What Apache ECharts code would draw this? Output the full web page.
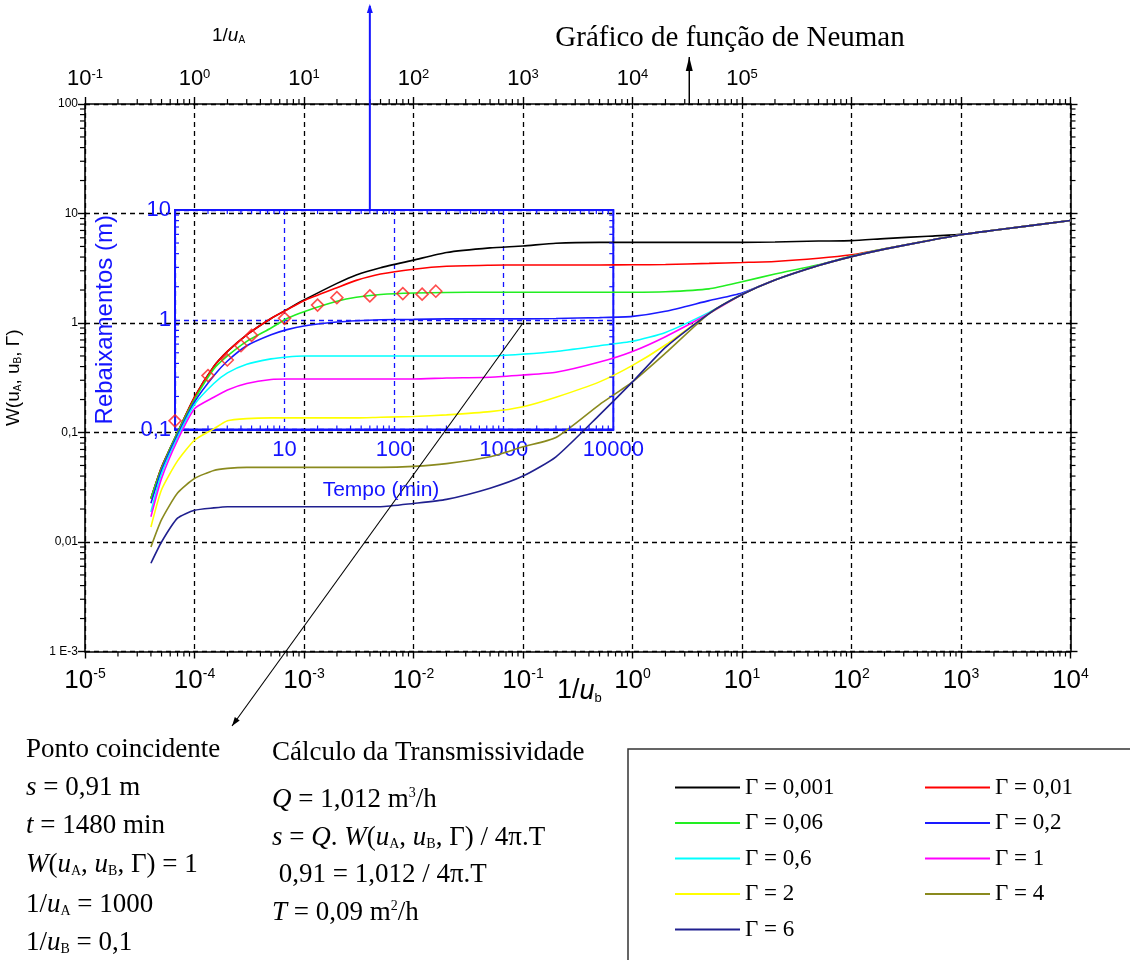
<!DOCTYPE html>
<html><head><meta charset="utf-8">
<script src="https://cdn.jsdelivr.net/npm/echarts@6/dist/echarts.min.js"></script>
<style>html,body{margin:0;padding:0;background:#fff}#c{width:1130px;height:960px}</style>
</head><body><div id="c"></div>
<script>
// ================= DATA =================
// x values : 1/uB (bottom axis); 1/uA = 1/uB * 1e4 (top axis)
const invUB = [4e-5, 5e-5, 7e-5, 1e-4, 1.5e-4, 2e-4, 3e-4, 5e-4, 7e-4, 1e-3, 2e-3, 3e-3, 5e-3, 1e-2, 2e-2, 5e-2, 0.1, 0.2, 0.5, 1, 2, 5, 10, 20, 50, 100, 200, 500, 1000, 2000, 1e4];
// W(uA, uB, Γ)
const W_g0001 = [0.025, 0.048, 0.10, 0.21, 0.40, 0.55, 0.78, 1.1, 1.33, 1.62, 2.3, 2.75, 3.2, 3.75, 4.4, 4.85, 5.05, 5.35, 5.45, 5.45, 5.45, 5.45, 5.45, 5.5, 5.6, 5.65, 5.9, 6.2, 6.45, 7.02, 8.63];
const W_g001  = [0.025, 0.048, 0.10, 0.21, 0.40, 0.55, 0.78, 1.1, 1.32, 1.6, 2.1, 2.45, 2.8, 3.1, 3.3, 3.37, 3.39, 3.39, 3.39, 3.4, 3.42, 3.5, 3.57, 3.65, 3.9, 4.2, 4.75, 5.65, 6.4, 7.02, 8.63];
const W_g006  = [0.025, 0.047, 0.10, 0.20, 0.38, 0.5, 0.68, 0.9, 1.1, 1.27, 1.58, 1.72, 1.82, 1.88, 1.9, 1.91, 1.91, 1.91, 1.91, 1.91, 1.93, 2.05, 2.38, 2.8, 3.4, 4.08, 4.75, 5.65, 6.4, 7.02, 8.63];
const W_g02   = [0.0226, 0.045, 0.095, 0.19, 0.33, 0.45, 0.62, 0.78, 0.87, 0.94, 1.02, 1.05, 1.07, 1.08, 1.09, 1.09, 1.09, 1.1, 1.12, 1.15, 1.28, 1.6, 1.88, 2.47, 3.36, 4.05, 4.73, 5.64, 6.4, 7.02, 8.63];
const W_g06   = [0.0188, 0.042, 0.09, 0.18, 0.28, 0.35, 0.42, 0.47, 0.49, 0.5, 0.5, 0.5, 0.5, 0.5, 0.5, 0.5, 0.52, 0.55, 0.62, 0.68, 0.82, 1.25, 1.83, 2.47, 3.35, 4.04, 4.73, 5.64, 6.4, 7.02, 8.63];
const W_g1    = [0.017, 0.038, 0.085, 0.165, 0.21, 0.245, 0.28, 0.305, 0.308, 0.308, 0.308, 0.308, 0.308, 0.308, 0.315, 0.32, 0.335, 0.355, 0.44, 0.55, 0.75, 1.22, 1.82, 2.47, 3.35, 4.04, 4.73, 5.64, 6.4, 7.02, 8.63];
const W_g2    = [0.0137, 0.03, 0.055, 0.085, 0.108, 0.128, 0.134, 0.136, 0.136, 0.136, 0.136, 0.136, 0.138, 0.14, 0.145, 0.155, 0.172, 0.21, 0.29, 0.41, 0.63, 1.22, 1.82, 2.47, 3.35, 4.04, 4.73, 5.64, 6.4, 7.02, 8.63];
const W_g4    = [0.009, 0.016, 0.028, 0.038, 0.045, 0.047, 0.048, 0.048, 0.048, 0.048, 0.048, 0.048, 0.048, 0.049, 0.052, 0.06, 0.074, 0.09, 0.18, 0.29, 0.53, 1.22, 1.82, 2.47, 3.35, 4.04, 4.73, 5.64, 6.4, 7.02, 8.63];
const W_g6    = [0.0064, 0.01, 0.0165, 0.0195, 0.0205, 0.021, 0.021, 0.021, 0.021, 0.021, 0.021, 0.021, 0.021, 0.0225, 0.0245, 0.031, 0.04, 0.06, 0.145, 0.29, 0.6, 1.22, 1.82, 2.47, 3.35, 4.04, 4.73, 5.64, 6.4, 7.02, 8.63];
const gammaNames = ['Γ = 0,001', 'Γ = 0,01', 'Γ = 0,06', 'Γ = 0,2', 'Γ = 0,6', 'Γ = 1', 'Γ = 2', 'Γ = 4', 'Γ = 6'];
const gammaValues = [W_g0001, W_g001, W_g006, W_g02, W_g06, W_g1, W_g2, W_g4, W_g6];
// field data (overlay): time (min) vs drawdown (m)
const tempoMin = [1, 2, 3, 4, 5, 10, 20, 30, 60, 120, 180, 240];
const rebaixM  = [0.12, 0.31, 0.43, 0.58, 0.72, 1.03, 1.36, 1.59, 1.65, 1.73, 1.71, 1.82];
// annotations
const matchPoint = [0.1, 1];      // (1/uB, W)
const arrowTempo = 60;            // min
const arrowTopInvUA = 3.3e4;      // on 1/uA axis
// tick labels
const yTickLabels = {'-3': '1 E-3', '-2': '0,01', '-1': '0,1', '0': '1', '1': '10', '2': '100'};
const innerYTickLabels = {'-1': '0,1', '0': '1', '1': '10'};
const innerXTickLabels = {'0': '', '1': '10', '2': '100', '3': '1000', '4': '10000'};

// ================= STYLE =================
const colors = ['#000000', '#ff0000', '#22ee22', '#1a1aff', '#00ffff', '#ff00ff', '#ffff00', '#8a8a1e', '#20208f'];
const SANS = 'Liberation Sans';
const SERIF = 'Liberation Serif';
const BLUE = '#1414ff';

const chart = echarts.init(document.getElementById('c'), null, {renderer: 'canvas'});
const ex = v => Math.round(Math.log10(v));

function minorVals(d0, d1) {
  const out = [];
  for (let d = d0; d <= d1; d++) for (let m = 2; m <= 9; m++) out.push(m * Math.pow(10, d));
  return out;
}

function tickRenderer(side, len, color, inward) {
  return function (params, api) {
    const cs = params.coordSys;
    const p = api.coord([api.value(0), api.value(1)]);
    const s = {stroke: color, lineWidth: 1.2};
    const ch = [];
    const sg = inward ? -1 : 1;
    if (side === 'x') {
      const yb = cs.y + cs.height, yt = cs.y;
      ch.push({type: 'line', shape: {x1: p[0], y1: yb, x2: p[0], y2: yb + sg * len}, style: s});
      ch.push({type: 'line', shape: {x1: p[0], y1: yt, x2: p[0], y2: yt - sg * len}, style: s});
    } else {
      const xl = cs.x, xr = cs.x + cs.width;
      ch.push({type: 'line', shape: {x1: xl, y1: p[1], x2: xl - sg * len, y2: p[1]}, style: s});
      ch.push({type: 'line', shape: {x1: xr, y1: p[1], x2: xr + sg * len, y2: p[1]}, style: s});
    }
    return {type: 'group', children: ch};
  };
}

const series = gammaNames.map((n, i) => ({
  name: n, type: 'line', xAxisIndex: 0, yAxisIndex: 0,
  data: invUB.map((x, k) => [x, gammaValues[i][k]]),
  symbol: 'none', smooth: 0.2, lineStyle: {color: colors[i], width: 1.6}, itemStyle: {color: colors[i]},
  z: 3 + i * 0.01, clip: false
}));
series.push({
  name: 'dados', type: 'scatter', xAxisIndex: 2, yAxisIndex: 2,
  data: tempoMin.map((t, k) => [t, rebaixM[k]]),
  symbol: 'diamond', symbolSize: 12, clip: false,
  itemStyle: {color: 'rgba(255,255,255,0)', borderColor: '#ff2020', borderWidth: 1.6}, z: 10
});
series.push({type: 'custom', xAxisIndex: 0, yAxisIndex: 0, clip: false, silent: true, z: 5,
  data: minorVals(-5, 3).map(v => [v, 1]), renderItem: tickRenderer('x', 5, '#000', false)});
series.push({type: 'custom', xAxisIndex: 0, yAxisIndex: 0, clip: false, silent: true, z: 5,
  data: minorVals(-3, 1).map(v => [1, v]), renderItem: tickRenderer('y', 5, '#000', false)});
series.push({type: 'custom', xAxisIndex: 2, yAxisIndex: 2, clip: false, silent: true, z: 5,
  data: minorVals(0, 3).map(v => [v, 1]), renderItem: tickRenderer('x', 4, BLUE, true)});
series.push({type: 'custom', xAxisIndex: 2, yAxisIndex: 2, clip: false, silent: true, z: 5,
  data: minorVals(-1, 0).map(v => [10, v]), renderItem: tickRenderer('y', 4, BLUE, true)});

const dashBlack = {show: true, lineStyle: {color: '#000', type: [5, 4], width: 1.3}};
const dashBlue = {show: true, lineStyle: {color: BLUE, type: [5, 4], width: 1.3}};
const axLine = {show: true, lineStyle: {color: '#000', width: 1.6}};
const majTick = {show: true, length: 7, lineStyle: {color: '#000', width: 1.4}};
const expRich = {
  b: {fontFamily: SANS, fontSize: 26, color: '#000'},
  s: {fontFamily: SANS, fontSize: 14, color: '#000', verticalAlign: 'top'}
};
const expRichTop = {
  b: {fontFamily: SANS, fontSize: 22, color: '#000'},
  s: {fontFamily: SANS, fontSize: 13, color: '#000', verticalAlign: 'top'}
};

const option = {
  animation: false,
  backgroundColor: '#fff',
  grid: [
    {left: 85, top: 104, width: 985.5, height: 547.5, containLabel: false, outerBoundsMode: 'none'},
    {left: 175, top: 210, width: 438.3, height: 219.5, containLabel: false, outerBoundsMode: 'none',
     show: true, borderColor: BLUE, borderWidth: 2, backgroundColor: 'rgba(0,0,0,0)'}
  ],
  xAxis: [
    {type: 'log', logBase: 10, gridIndex: 0, position: 'bottom', min: 1e-5, max: 1e4, splitNumber: 10,
     axisLine: axLine, axisTick: majTick, splitLine: dashBlack,
     axisLabel: {margin: 16, showMinLabel: true, showMaxLabel: true,
       formatter: v => '{b|10}{s|' + ex(v) + '}', rich: expRich}},
    {type: 'log', logBase: 10, gridIndex: 0, position: 'top', min: 0.1, max: 1e8, splitNumber: 10,
     axisLine: axLine, axisTick: majTick, splitLine: {show: false},
     axisLabel: {margin: 14, showMinLabel: true, showMaxLabel: true,
       formatter: v => ex(v) > 5 ? '' : '{b|10}{s|' + ex(v) + '}', rich: expRichTop}},
    {type: 'log', logBase: 10, gridIndex: 1, position: 'bottom', min: 1, max: 1e4, splitNumber: 10,
     axisLine: {show: true, lineStyle: {color: BLUE, width: 2}}, axisTick: {show: false}, splitLine: dashBlue,
     axisLabel: {margin: 9, color: BLUE, fontFamily: SANS, fontSize: 22, showMinLabel: true, showMaxLabel: true,
       formatter: v => innerXTickLabels[ex(v)]}}
  ],
  yAxis: [
    {type: 'log', logBase: 10, gridIndex: 0, position: 'left', min: 1e-3, max: 100, splitNumber: 10,
     axisLine: axLine, axisTick: majTick, splitLine: dashBlack,
     axisLabel: {margin: 7, color: '#000', fontFamily: SANS, fontSize: 12, showMinLabel: true, showMaxLabel: true,
       formatter: v => yTickLabels[ex(v)]},
     name: '{n|W(u}{s|A}{n|, u}{s|B}{n|, Γ)}', nameLocation: 'middle', nameGap: 62, nameRotate: 90,
     nameTextStyle: {rich: {n: {fontFamily: SANS, fontSize: 19, color: '#000'},
                            s: {fontFamily: SANS, fontSize: 10, color: '#000', verticalAlign: 'bottom'}}}},
    {type: 'log', logBase: 10, gridIndex: 0, position: 'right', min: 1e-3, max: 100, splitNumber: 10,
     axisLine: axLine, axisTick: majTick, splitLine: {show: false}, axisLabel: {show: false}},
    {type: 'log', logBase: 10, gridIndex: 1, position: 'left', min: 0.1, max: 10, splitNumber: 10,
     axisLine: {show: true, lineStyle: {color: BLUE, width: 2}}, axisTick: {show: false}, splitLine: dashBlue,
     axisLabel: {margin: 4, color: BLUE, fontFamily: SANS, fontSize: 22, showMinLabel: true, showMaxLabel: true,
       formatter: v => innerYTickLabels[ex(v)]},
     name: 'Rebaixamentos (m)', nameLocation: 'middle', nameGap: 58, nameRotate: 90,
     nameTextStyle: {color: BLUE, fontFamily: SANS, fontSize: 24}}
  ],
  legend: [
    {orient: 'vertical', left: 670, top: 771, itemWidth: 65, itemHeight: 2, itemGap: 12.5, icon: 'rect',
     selectedMode: false, data: [gammaNames[0], gammaNames[2], gammaNames[4], gammaNames[6], gammaNames[8]],
     textStyle: {fontFamily: SERIF, fontSize: 23, color: '#000'}},
    {orient: 'vertical', left: 920, top: 771, itemWidth: 65, itemHeight: 2, itemGap: 12.5, icon: 'rect',
     selectedMode: false, data: [gammaNames[1], gammaNames[3], gammaNames[5], gammaNames[7]],
     textStyle: {fontFamily: SERIF, fontSize: 23, color: '#000'}}
  ],
  series: series
};
chart.setOption(option);

// ================= ANNOTATIONS (positions from the axes) =================
function head(x1, y1, x2, y2, len, w) {
  const a = Math.atan2(y2 - y1, x2 - x1);
  const bx = x2 - len * Math.cos(a), by = y2 - len * Math.sin(a);
  const px = -Math.sin(a) * w, py = Math.cos(a) * w;
  return [[x2, y2], [bx + px, by + py], [bx - px, by - py]];
}
const mp = chart.convertToPixel({gridIndex: 0}, matchPoint);
const xb = chart.convertToPixel({xAxisIndex: 2}, arrowTempo);
const yBoxTop = chart.convertToPixel({yAxisIndex: 2}, 10);
const xTop = chart.convertToPixel({xAxisIndex: 1}, arrowTopInvUA);
const yTopAxis = chart.convertToPixel({yAxisIndex: 0}, 100);
const diagEnd = [232, 726];

const serifRich = (fs) => ({
  n: {fontFamily: SERIF, fontSize: fs, color: '#000'},
  i: {fontFamily: SERIF, fontSize: fs, fontStyle: 'italic', color: '#000'},
  sub: {fontFamily: SERIF, fontSize: Math.round(fs * 0.5), color: '#000', verticalAlign: 'bottom'},
  sup: {fontFamily: SERIF, fontSize: Math.round(fs * 0.5), color: '#000', verticalAlign: 'top'}
});
function txt(x, y, text, fs, rich) {
  return {type: 'text', x: x, y: y, silent: true, z: 20,
    style: {text: text, fontFamily: SERIF, fontSize: fs, fill: '#000', align: 'left', verticalAlign: 'middle', rich: rich}};
}
const FS = 27;
const R = serifRich(FS);
const leftBlock = [
  ['{n|Ponto coincidente}', 750],
  ['{i|s}{n| = 0,91 m}', 788],
  ['{i|t}{n| = 1480 min}', 826],
  ['{i|W}{n|(}{i|u}{sub|A}{n|, }{i|u}{sub|B}{n|, Γ) = 1}', 865],
  ['{n|1/}{i|u}{sub|A}{n| = 1000}', 905],
  ['{n|1/}{i|u}{sub|B}{n| = 0,1}', 943]
];
const rightBlock = [
  ['{n|Cálculo da Transmissividade}', 753],
  ['{i|Q}{n| = 1,012 m}{sup|3}{n|/h}', 800],
  ['{i|s}{n| = }{i|Q}{n|. }{i|W}{n|(}{i|u}{sub|A}{n|, }{i|u}{sub|B}{n|, Γ) / 4π.T}', 838],
  ['{n| 0,91 = 1,012 / 4π.T}', 875],
  ['{i|T}{n| = 0,09 m}{sup|2}{n|/h}', 913]
];

const graphics = [];
leftBlock.forEach(l => graphics.push(txt(26, l[1], l[0], FS, R)));
rightBlock.forEach(l => graphics.push(txt(272, l[1], l[0], FS, R)));
// title and axis captions
graphics.push({type: 'text', x: 730, y: 38, silent: true, z: 20, style: {text: 'Gráfico de função de Neuman', fontFamily: SERIF, fontSize: 29, fill: '#000', align: 'center', verticalAlign: 'middle'}});
graphics.push({type: 'text', x: 212, y: 36, silent: true, z: 20, style: {text: '{n|1/}{i|u}{sub|A}', align: 'left', verticalAlign: 'middle',
  rich: {n: {fontFamily: SANS, fontSize: 19, color: '#000'}, i: {fontFamily: SANS, fontSize: 19, fontStyle: 'italic', color: '#000'}, sub: {fontFamily: SANS, fontSize: 10, color: '#000', verticalAlign: 'bottom'}}}});
graphics.push({type: 'text', x: 557, y: 691, silent: true, z: 20, style: {text: '{n|1/}{i|u}{sub|b}', align: 'left', verticalAlign: 'middle',
  rich: {n: {fontFamily: SANS, fontSize: 27, color: '#000'}, i: {fontFamily: SANS, fontSize: 27, fontStyle: 'italic', color: '#000'}, sub: {fontFamily: SANS, fontSize: 13, color: '#000', verticalAlign: 'bottom'}}}});
graphics.push({type: 'text', x: 381, y: 490, silent: true, z: 20, style: {text: 'Tempo (min)', fontFamily: SANS, fontSize: 21, fill: BLUE, align: 'center', verticalAlign: 'middle'}});
// legend frame
graphics.push({type: 'rect', silent: true, z: 1, shape: {x: 628, y: 749, width: 600, height: 300}, style: {fill: 'none', stroke: '#333', lineWidth: 1.5}});
// blue arrow (tempo)
graphics.push({type: 'line', silent: true, z: 15, shape: {x1: xb, y1: yBoxTop, x2: xb, y2: 6}, style: {stroke: BLUE, lineWidth: 2}});
graphics.push({type: 'polygon', silent: true, z: 15, shape: {points: head(xb, yBoxTop, xb, 4, 9, 3)}, style: {fill: BLUE}});
// black arrow on top axis
graphics.push({type: 'line', silent: true, z: 15, shape: {x1: xTop, y1: yTopAxis, x2: xTop, y2: 57}, style: {stroke: '#000', lineWidth: 1.5}});
graphics.push({type: 'polygon', silent: true, z: 15, shape: {points: head(xTop, yTopAxis, xTop, 57, 14, 3.5)}, style: {fill: '#000'}});
// diagonal line from match point
graphics.push({type: 'line', silent: true, z: 15, shape: {x1: mp[0], y1: mp[1], x2: diagEnd[0], y2: diagEnd[1]}, style: {stroke: '#000', lineWidth: 1.1}});
graphics.push({type: 'polygon', silent: true, z: 15, shape: {points: head(mp[0], mp[1], diagEnd[0], diagEnd[1], 9, 3)}, style: {fill: '#000'}});

chart.setOption({graphic: graphics});
</script>
</body></html>
